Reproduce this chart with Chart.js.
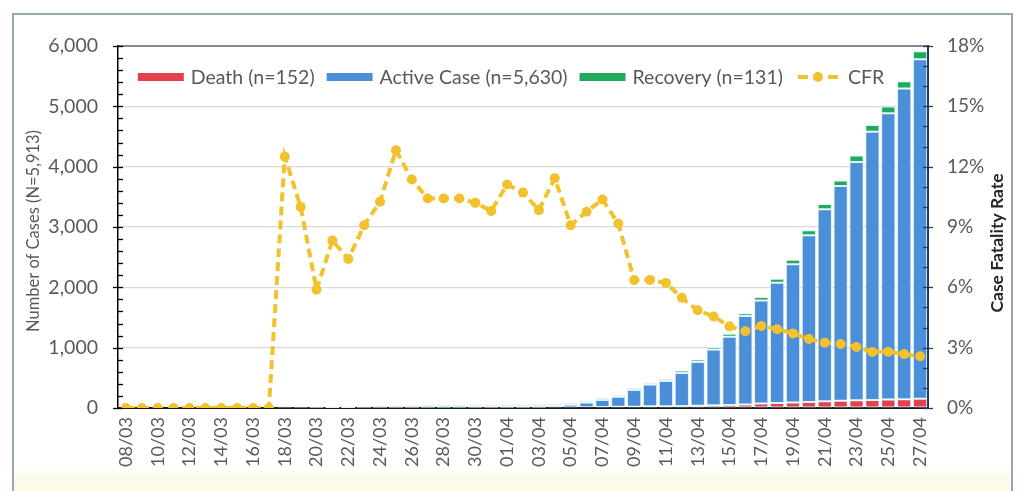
<!DOCTYPE html>
<html>
<head>
<meta charset="utf-8">
<title>COVID-19 cases and case fatality rate</title>
<script src="https://cdn.jsdelivr.net/npm/chart.js@4.4.1/dist/chart.umd.min.js"></script>
<style>
  html, body { margin: 0; padding: 0; background: #ffffff; }
  #wrap { position: relative; width: 1023px; height: 491px; overflow: hidden; background: #ffffff; }
  #frame {
    position: absolute; left: 12px; top: 13px; width: 1001px; height: 540px;
    box-sizing: border-box; border: 2px solid #93a9b6;
    background: linear-gradient(#ffffff 0px, #ffffff 454px, #fcfbea 462px);
  }
  #c { position: absolute; left: 0; top: 0; }
</style>
</head>
<body>
<div id="wrap">
  <div id="frame"></div>
  <canvas id="c" width="1023" height="491"></canvas>
</div>
<script>
// Daily categories
const dates = [
  '08/03','09/03','10/03','11/03','12/03','13/03','14/03','15/03','16/03','17/03',
  '18/03','19/03','20/03','21/03','22/03','23/03','24/03','25/03','26/03','27/03',
  '28/03','29/03','30/03','31/03',
  '01/04','02/04','03/04','04/04','05/04','06/04','07/04','08/04','09/04','10/04',
  '11/04','12/04','13/04','14/04','15/04','16/04','17/04','18/04','19/04','20/04',
  '21/04','22/04','23/04','24/04','25/04','26/04','27/04'
];

// Cumulative counts per day (stacked bars)
const deaths = [
  0,0,0,0,0,0,0,0,0,0,
  1,1,1,2,2,3,4,5,5,5,5,5,5,5,
  6,6,6,8,8,12,17,20,21,27,30,34,39,46,50,60,75,84,91,101,110,120,127,131,140,145,152
];
const activeCases = [
  3,3,3,3,3,3,1,3,5,5,
  4,6,13,19,22,25,30,27,28,28,28,28,25,21,
  23,25,29,32,47,78,114,165,276,364,416,548,722,924,1132,1463,1705,1994,2290,2762,
  3185,3560,3951,4446,4745,5149,5630
];
const recoveries = [
  0,0,0,0,0,0,2,2,3,3,
  3,3,3,3,3,5,5,7,11,15,15,15,19,25,
  25,25,26,30,33,33,33,33,33,33,36,39,42,42,49,49,58,66,75,85,87,92,108,112,113,122,131
];

// Case fatality rate, percent
const cfrPercent = [
  0,0,0,0,0,0,0,0,0,0,
  12.5,10.0,5.88,8.33,7.41,9.09,10.26,12.82,11.36,10.42,10.42,10.42,10.2,9.8,
  11.11,10.71,9.84,11.43,9.09,9.76,10.37,9.17,6.36,6.37,6.22,5.48,4.86,4.55,4.06,
  3.82,4.08,3.92,3.71,3.43,3.25,3.18,3.03,2.79,2.8,2.68,2.57
];

const seriesLabels = ['Death (n=152)', 'Active Case (n=5,630)', 'Recovery (n=131)', 'CFR'];
const caseAxisMax = 6000, caseAxisStep = 1000, caseMinorStep = 200;
const rateAxisMax = 18, rateAxisStep = 3, rateMinorStep = 1;
const leftTitle = 'Number of Cases (N=5,913)';
const rightTitle = 'Case Fatality Rate';

const FONT = 'Lato, "Open Sans", sans-serif';
const TEXT = '#595959';
const COLORS = { death: '#e5404d', active: '#4a8fd7', recovery: '#1faa5e', cfr: '#f2c12e', edge: '#dcf1fa' };

// Axis tick marks, axis titles and the in-plot legend
const decorations = {
  id: 'decorations',
  afterDraw(chart) {
    const { ctx, chartArea: a, scales } = chart;
    ctx.save();

    ctx.lineWidth = 1.3;
    ctx.strokeStyle = '#000000';
    for (let v = 0; v <= caseAxisMax; v += caseMinorStep) {
      const y = Math.round(scales.y.getPixelForValue(v)) + 0.5;
      const major = v % caseAxisStep === 0;
      ctx.beginPath();
      ctx.moveTo(major ? a.left - 5 : a.left, y);
      ctx.lineTo(a.left + 5, y);
      ctx.stroke();
    }
    ctx.strokeStyle = '#1f3864';
    for (let v = 0; v <= rateAxisMax; v += rateMinorStep) {
      const y = Math.round(scales.y1.getPixelForValue(v)) + 0.5;
      const major = v % rateAxisStep === 0;
      ctx.beginPath();
      ctx.moveTo(a.right - 5, y);
      ctx.lineTo(major ? a.right + 5 : a.right, y);
      ctx.stroke();
    }

    // axis titles (both read bottom-to-top)
    ctx.textAlign = 'center';
    ctx.textBaseline = 'middle';
    ctx.save();
    ctx.translate(34, 231);
    ctx.rotate(-Math.PI / 2);
    ctx.fillStyle = TEXT;
    ctx.font = '16.5px ' + FONT;
    ctx.fillText(leftTitle, 0, 0);
    ctx.restore();
    ctx.save();
    ctx.translate(997, 243);
    ctx.rotate(-Math.PI / 2);
    ctx.fillStyle = '#262626';
    ctx.font = 'bold 17.5px ' + FONT;
    ctx.fillText(rightTitle, 0, 0);
    ctx.restore();

    // legend
    ctx.font = '19.5px ' + FONT;
    const sym = 46, gapText = 7, gapItem = 12;
    const items = chart.data.datasets.map(ds => ({
      label: ds.label, color: ds.type === 'line' ? ds.borderColor : ds.backgroundColor, line: ds.type === 'line'
    }));
    const widths = items.map(it => sym + gapText + ctx.measureText(it.label).width);
    const total = widths.reduce((s, w) => s + w, 0) + gapItem * (items.length - 1);
    let x = 511 - total / 2;
    const y = 77;
    items.forEach((it, i) => {
      if (it.line) {
        ctx.strokeStyle = it.color;
        ctx.lineWidth = 4;
        ctx.beginPath();
        ctx.moveTo(x + 3, y); ctx.lineTo(x + 13, y);
        ctx.moveTo(x + 33, y); ctx.lineTo(x + 43, y);
        ctx.stroke();
        ctx.fillStyle = it.color;
        ctx.beginPath();
        ctx.arc(x + 23, y, 5, 0, Math.PI * 2);
        ctx.fill();
      } else {
        ctx.fillStyle = it.color;
        ctx.fillRect(x, y - 4, sym, 8);
      }
      ctx.fillStyle = TEXT;
      ctx.textAlign = 'left';
      ctx.textBaseline = 'middle';
      ctx.fillText(it.label, x + sym + gapText, y + 1);
      x += widths[i] + gapItem;
    });

    ctx.restore();
  }
};

function barSeries(label, data, color) {
  return {
    type: 'bar', label, data, yAxisID: 'y', order: 2,
    backgroundColor: color, borderColor: COLORS.edge,
    borderWidth: 1, borderSkipped: false,
    barPercentage: 0.9, categoryPercentage: 1
  };
}

function build() {
  Chart.defaults.font.family = FONT;
  new Chart(document.getElementById('c'), {
    data: {
      labels: dates,
      datasets: [
        barSeries(seriesLabels[0], deaths, COLORS.death),
        barSeries(seriesLabels[1], activeCases, COLORS.active),
        barSeries(seriesLabels[2], recoveries, COLORS.recovery),
        {
          type: 'line', label: seriesLabels[3], data: cfrPercent, yAxisID: 'y1', order: 1,
          borderColor: COLORS.cfr, backgroundColor: COLORS.cfr,
          borderWidth: 4, borderDash: [9, 5], tension: 0,
          pointRadius: 5, pointBorderWidth: 0, pointBackgroundColor: COLORS.cfr
        }
      ]
    },
    options: {
      responsive: false,
      animation: false,
      devicePixelRatio: 1,
      layout: { padding: { top: 46, left: 0, right: 0, bottom: 0 } },
      plugins: { legend: { display: false }, tooltip: { enabled: false }, title: { display: false } },
      scales: {
        x: {
          stacked: true, offset: true,
          grid: { display: false, drawTicks: false },
          border: { display: true, color: '#1a1a1a', width: 2 },
          ticks: {
            autoSkip: false, minRotation: 90, maxRotation: 90, padding: 9,
            color: TEXT, font: { size: 18 },
            callback: (v, i) => (i % 2 === 0 ? dates[i] : '')
          },
          afterFit: s => { s.height = 83; }
        },
        y: {
          stacked: true, position: 'left', min: 0, max: caseAxisMax,
          ticks: {
            stepSize: caseAxisStep, padding: 20, color: TEXT, font: { size: 19.5 },
            callback: v => Number(v).toLocaleString('en-US')
          },
          grid: {
            drawTicks: false,
            color: c => (c.tick && c.tick.value === caseAxisMax ? '#8a8a8a' : '#d9d9d9'),
            lineWidth: c => (c.tick && c.tick.value === caseAxisMax ? 2 : 1.2)
          },
          border: { color: '#000000', width: 1.5 },
          afterFit: s => { s.width = 118; }
        },
        y1: {
          position: 'right', min: 0, max: rateAxisMax,
          ticks: {
            stepSize: rateAxisStep, padding: 19, color: TEXT, font: { size: 19 },
            callback: v => v + '%'
          },
          grid: { display: false, drawTicks: false },
          border: { color: '#1f3864', width: 2 },
          afterFit: s => { s.width = 95; }
        }
      }
    },
    plugins: [decorations]
  });
}

if (document.fonts && document.fonts.load) {
  Promise.all([
    document.fonts.load('18px Lato'),
    document.fonts.load('bold 17px Lato')
  ]).then(build, build);
} else {
  build();
}
</script>
</body>
</html>
